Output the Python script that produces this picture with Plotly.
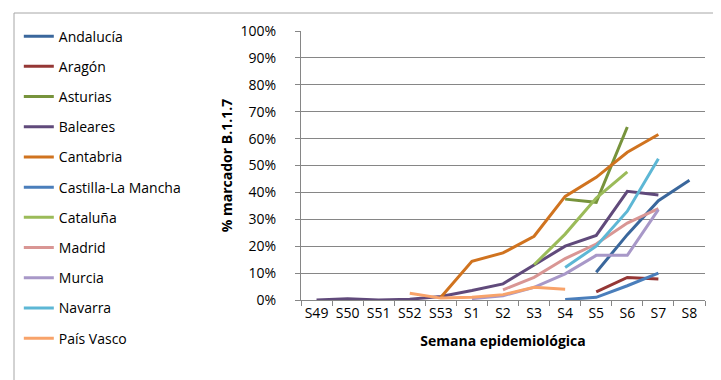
import plotly.graph_objects as go

weeks = ["S49", "S50", "S51", "S52", "S53", "S1", "S2", "S3", "S4", "S5", "S6", "S7", "S8"]
N = None

andalucia = [N, N, N, N, N, N, N, N, N, 10.3, 24.3, 36.9, 44.5]
aragon = [N, N, N, N, N, N, N, N, N, 3.0, 8.4, 7.8, N]
asturias = [N, N, N, N, N, N, N, N, 37.5, 36.3, 64.3, N, N]
baleares = [0.0, 0.5, 0.0, 0.3, 1.3, 3.5, 6.0, 13.0, 20.0, 24.0, 40.4, 39.0, N]
cantabria = [N, N, N, N, 1.0, 14.4, 17.5, 23.7, 38.5, 45.6, 54.9, 61.5, N]
castilla_lm = [N, N, N, N, N, N, N, N, 0.2, 1.0, 5.3, 10.0, N]
cataluna = [N, N, N, N, N, N, N, 13.1, 24.5, 37.9, 47.6, N, N]
madrid = [N, N, N, N, N, N, 3.8, 8.4, 15.4, 20.8, 28.6, 34.0, N]
murcia = [N, N, N, N, N, 0.5, 1.6, 4.7, 9.7, 16.6, 16.6, 33.6, N]
navarra = [N, N, N, N, N, N, N, N, 12.1, 20.0, 33.0, 52.5, N]
pais_vasco = [N, N, N, 2.5, 0.7, 1.0, 2.0, 4.7, 4.0, N, N, N, N]

series = [
    ("Andalucía", andalucia, "#3A679C"),
    ("Aragón", aragon, "#953735"),
    ("Asturias", asturias, "#77933C"),
    ("Baleares", baleares, "#604A7B"),
    ("Cantabria", cantabria, "#D0731F"),
    ("Castilla-La Mancha", castilla_lm, "#4A7EBB"),
    ("Cataluña", cataluna, "#9BBB59"),
    ("Madrid", madrid, "#D99694"),
    ("Murcia", murcia, "#A898C8"),
    ("Navarra", navarra, "#5DB7D5"),
    ("País Vasco", pais_vasco, "#F8A36A"),
]

fig = go.Figure()
for i, (name, vals, col) in enumerate(series):
    fig.add_trace(go.Scatter(
        x=weeks, y=[v / 100 if v is not None else None for v in vals],
        mode="lines", name=name, legendgroup="g%d" % i,
        line=dict(color=col, width=3), connectgaps=False,
    ))

W, H = 721, 380
L, R, T, B = 293, 24, 23, 88
pw, ph = W - L - R, H - T - B

fig.update_layout(
    width=W, height=H,
    margin=dict(l=L, r=R, t=T, b=B, autoexpand=False),
    paper_bgcolor="white", plot_bgcolor="white",
    font=dict(family="Open Sans, sans-serif", size=14, color="#000000"),
    showlegend=True,
    legend=dict(
        xref="container", yref="container", x=0.015, y=0.967,
        xanchor="left", yanchor="top",
        tracegroupgap=9, font=dict(size=14),
        bgcolor="rgba(0,0,0,0)", itemwidth=30, maxheight=380,
    ),
    xaxis=dict(
        type="category", range=[-0.5, len(weeks) - 0.5],
        showgrid=False, showline=True, linecolor="#868686", linewidth=1,
        ticks="outside", tickson="boundaries", ticklen=5, tickcolor="#868686",
        tickfont=dict(size=14), ticklabelstandoff=0, tickangle=0,
        title=dict(text="<b>Semana epidemiológica</b>", font=dict(size=14), standoff=15),
    ),
    yaxis=dict(
        range=[0, 1], dtick=0.1, tickformat=".0%",
        showgrid=True, gridcolor="#868686", gridwidth=1,
        showline=True, linecolor="#868686", linewidth=1,
        ticks="outside", ticklen=5, tickcolor="#868686",
        tickfont=dict(size=14), ticklabelstandoff=16,
        zeroline=False,
        title=dict(text="<b>% marcador B.1.1.7</b>", font=dict(size=14), standoff=4),
    ),
    shapes=[dict(
        type="rect", xref="paper", yref="paper",
        x0=(6 - L) / pw, x1=(714 - L) / pw,
        y0=(H - B - 373) / ph, y1=(H - B - 5) / ph,
        line=dict(color="#A6A6A6", width=1), fillcolor="rgba(0,0,0,0)", layer="below",
    )],
)

fig.write_html("out.html")
